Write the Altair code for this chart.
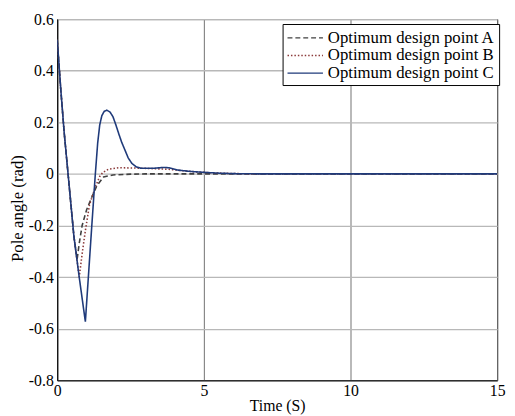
import altair as alt
import pandas as pd

series_names = ["Optimum design point A", "Optimum design point B", "Optimum design point C"]
series_colors = ["#404040", "#8b3a3a", "#1f3a7a"]
series_dashes = [[5, 3], [1.5, 2], [1, 0]]

t_A = [0, 0.12, 0.235, 0.37, 0.57, 0.68, 0.75, 0.85, 1.0, 1.18, 1.35, 1.58, 1.9, 2.5, 3.0, 15]
y_A = [0.52, 0.33, 0.164, 0.0, -0.243, -0.33, -0.27, -0.2, -0.14, -0.09, -0.046, -0.012, -0.004, -0.001, 0.0, 0.0]

t_B = [0, 0.12, 0.235, 0.37, 0.57, 0.75, 0.85, 0.96, 1.1, 1.3, 1.45, 1.55, 1.74, 2.1, 2.9, 3.8, 4.2, 4.8, 5.5, 6.5, 15]
y_B = [0.52, 0.33, 0.164, 0.0, -0.243, -0.40, -0.31, -0.22, -0.12, -0.05, -0.01, 0.005, 0.018, 0.024, 0.022, 0.018, 0.013, 0.007, 0.003, 0.0, 0.0]

t_C = [0, 0.12, 0.235, 0.37, 0.57, 0.75, 0.96, 1.18, 1.30, 1.38, 1.45, 1.52, 1.60, 1.69, 1.80, 1.90, 2.00, 2.10, 2.20, 2.30, 2.42, 2.55, 2.70, 2.85, 3.0, 3.3, 3.6, 3.8, 4.1, 4.5, 5.0, 5.5, 6.0, 7.0, 15]
y_C = [0.52, 0.33, 0.164, 0.0, -0.243, -0.40, -0.573, -0.20, 0.0, 0.12, 0.19, 0.225, 0.242, 0.247, 0.240, 0.222, 0.19, 0.155, 0.122, 0.095, 0.062, 0.04, 0.027, 0.022, 0.022, 0.022, 0.025, 0.024, 0.015, 0.01, 0.006, 0.003, 0.001, 0.0, 0.0]

x_ticks = [0, 5, 10, 15]
y_ticks = [-0.8, -0.6, -0.4, -0.2, 0, 0.2, 0.4, 0.6]

rows = []
for name, ts, ys in zip(series_names, [t_A, t_B, t_C], [y_A, y_B, y_C]):
    for i, (t, y) in enumerate(zip(ts, ys)):
        rows.append({"series": name, "t": t, "y": y, "order": i})
df = pd.DataFrame(rows)

FONT = "Liberation Serif"


def make_legend():
    return alt.Legend(orient="none", legendX=229, legendY=5,
                      symbolType="M-2,0H2", symbolSize=324, symbolOffset=9,
                      symbolStrokeWidth=1.3,
                      labelFont=FONT, labelFontSize=17, labelColor="black",
                      labelOffset=13, labelLimit=400,
                      strokeColor="black", fillColor="white",
                      padding=4, rowPadding=0, cornerRadius=0)


chart = alt.Chart(df).mark_line(clip=True, strokeWidth=1.6).encode(
    x=alt.X("t:Q", title="Time (S)",
            scale=alt.Scale(domain=[0, 15], nice=False, zero=False),
            axis=alt.Axis(values=x_ticks, format="d", labelFlush=False, ticks=False,
                          labelFont=FONT, labelFontSize=16, titleFont=FONT, titleFontSize=16,
                          labelPadding=2, titlePadding=0, grid=True, gridColor="#707070")),
    y=alt.Y("y:Q", title="Pole angle (rad)",
            scale=alt.Scale(domain=[-0.8, 0.6], nice=False, zero=False),
            axis=alt.Axis(values=y_ticks, labelFlush=False, ticks=False,
                          labelExpr="toString(round(datum.value*10)/10)",
                          labelFont=FONT, labelFontSize=16, titleFont=FONT, titleFontSize=17,
                          labelPadding=4, titlePadding=2, titleY=192, grid=True,
                          gridColor="#b8b8b8", gridWidth=1.3)),
    color=alt.Color("series:N", title=None,
                    scale=alt.Scale(domain=series_names, range=series_colors),
                    legend=make_legend()),
    strokeDash=alt.StrokeDash("series:N", title=None,
                              scale=alt.Scale(domain=series_names, range=series_dashes),
                              legend=make_legend()),
    order="order:Q",
).properties(
    width=447, height=367,
    autosize=alt.AutoSizeParams(type="none"),
    padding={"left": 50, "top": 8, "right": 10, "bottom": 33},
).configure(
    font=FONT
).configure_view(
    stroke="black", strokeWidth=1
).configure_axis(
    labelColor="black", titleColor="black", titleFontWeight="normal",
    domainColor="black", domainWidth=1, gridWidth=1,
)

chart.save("out.html", embed_options={"renderer": "svg", "actions": False})
